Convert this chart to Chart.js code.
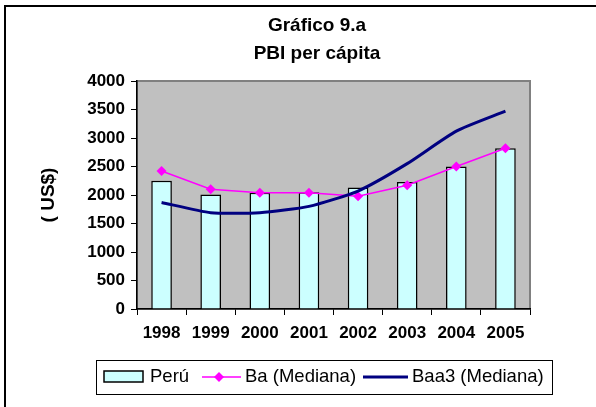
<!DOCTYPE html>
<html>
<head>
<meta charset="utf-8">
<script src="https://cdn.jsdelivr.net/npm/chart.js@4/dist/chart.umd.min.js"></script>
<style>
html,body{margin:0;padding:0;background:#fff;}
#c{display:block;}
</style>
</head>
<body>
<canvas id="c" width="596" height="407"></canvas>
<script>
const categories = ['1998','1999','2000','2001','2002','2003','2004','2005'];
const peru = [2250, 2010, 2040, 2050, 2130, 2230, 2500, 2820];
const ba   = [2420, 2100, 2040, 2040, 1980, 2170, 2500, 2820];
const baa3 = [1870, 1690, 1690, 1800, 2070, 2550, 3120, 3470];
const titleLines = ['Gráfico 9.a', 'PBI per cápita'];
const seriesNames = ['Perú', 'Ba (Mediana)', 'Baa3 (Mediana)'];
const yTitle = '( US$)';

const FONT = '"Liberation Sans", Arial, sans-serif';
const CYAN = '#CCFFFF', MAGENTA = '#FF00FF', NAVY = '#000080';

const decor = {
  id: 'decor',
  beforeDraw(chart) {
    const ctx = chart.ctx, a = chart.chartArea;
    ctx.save();
    ctx.fillStyle = '#fff';
    ctx.fillRect(0, 0, chart.width, chart.height);
    ctx.strokeStyle = '#000';
    ctx.lineWidth = 2;
    ctx.beginPath();
    ctx.moveTo(5, chart.height);
    ctx.lineTo(5, 6);
    ctx.lineTo(chart.width, 6);
    ctx.stroke();
    ctx.fillStyle = '#C0C0C0';
    ctx.fillRect(a.left, a.top, a.right - a.left, a.bottom - a.top);
    ctx.strokeStyle = '#808080';
    ctx.lineWidth = 2;
    ctx.strokeRect(a.left, a.top, a.right - a.left, a.bottom - a.top);
    ctx.restore();
  },
  afterDraw(chart) {
    const ctx = chart.ctx;
    ctx.save();
    ctx.fillStyle = '#000';
    ctx.font = 'bold 19px ' + FONT;
    ctx.textAlign = 'center';
    ctx.textBaseline = 'middle';
    ctx.fillText(titleLines[0], 317, 26);
    ctx.fillText(titleLines[1], 317, 54);
    // legend
    ctx.strokeStyle = '#000';
    ctx.lineWidth = 1;
    ctx.strokeRect(96.5, 360.5, 456, 34);
    const cy = 377;
    ctx.fillStyle = CYAN;
    ctx.fillRect(104, 371, 39, 11);
    ctx.lineWidth = 1.5;
    ctx.strokeRect(104, 371, 39, 11);
    ctx.font = '18.5px ' + FONT;
    ctx.textAlign = 'left';
    ctx.fillStyle = '#000';
    ctx.fillText(seriesNames[0], 150, cy);
    ctx.strokeStyle = MAGENTA;
    ctx.lineWidth = 1.5;
    ctx.beginPath(); ctx.moveTo(202, cy); ctx.lineTo(241, cy); ctx.stroke();
    ctx.fillStyle = MAGENTA;
    ctx.beginPath();
    ctx.moveTo(219, cy - 5); ctx.lineTo(224, cy); ctx.lineTo(219, cy + 5); ctx.lineTo(214, cy);
    ctx.closePath(); ctx.fill();
    ctx.fillStyle = '#000';
    ctx.fillText(seriesNames[1], 245, cy);
    ctx.strokeStyle = NAVY;
    ctx.lineWidth = 3;
    ctx.beginPath(); ctx.moveTo(363, cy); ctx.lineTo(408, cy); ctx.stroke();
    ctx.fillText(seriesNames[2], 412, cy);
    ctx.restore();
  }
};

new Chart(document.getElementById('c'), {
  type: 'bar',
  data: {
    labels: categories,
    datasets: [
      {
        type: 'line', label: seriesNames[2], data: baa3,
        borderColor: NAVY, borderWidth: 3, pointRadius: 0, tension: 0.2,
        fill: false, order: 1
      },
      {
        type: 'line', label: seriesNames[1], data: ba,
        borderColor: MAGENTA, backgroundColor: MAGENTA, borderWidth: 1.5,
        pointStyle: 'rectRot', pointRadius: 5, pointBorderWidth: 0,
        pointBackgroundColor: MAGENTA, tension: 0, fill: false, order: 2
      },
      {
        type: 'bar', label: seriesNames[0], data: peru,
        backgroundColor: CYAN, borderColor: '#000', borderWidth: 1.5,
        categoryPercentage: 1, barPercentage: 0.42, order: 3
      }
    ]
  },
  options: {
    responsive: false,
    animation: false,
    devicePixelRatio: 1,
    layout: { padding: { left: 35, right: 66, top: 81, bottom: 60 } },
    plugins: { legend: { display: false }, title: { display: false }, tooltip: { enabled: false } },
    scales: {
      x: {
        offset: true,
        grid: { offset: true, drawOnChartArea: false, drawTicks: true, tickLength: 6, color: '#000', lineWidth: 1 },
        border: { color: '#000', width: 1.5 },
        ticks: { color: '#000', font: { family: FONT, size: 17, weight: 'bold' }, padding: 8, maxRotation: 0 },
        afterFit(s) { s.height = 38; }
      },
      y: {
        min: 0, max: 4000,
        ticks: {
          stepSize: 500, color: '#000', font: { family: FONT, size: 17, weight: 'bold' }, padding: 6,
          callback: (v) => String(v)
        },
        grid: { drawOnChartArea: false, drawTicks: true, tickLength: 6, color: '#000', lineWidth: 1 },
        border: { color: '#000', width: 1.5 },
        title: { display: true, text: yTitle, color: '#000', font: { family: FONT, size: 19, weight: 'bold' }, padding: { top: 2, bottom: 2 } },
        afterFit(s) { s.width = 102; }
      }
    }
  },
  plugins: [decor]
});
</script>
</body>
</html>
